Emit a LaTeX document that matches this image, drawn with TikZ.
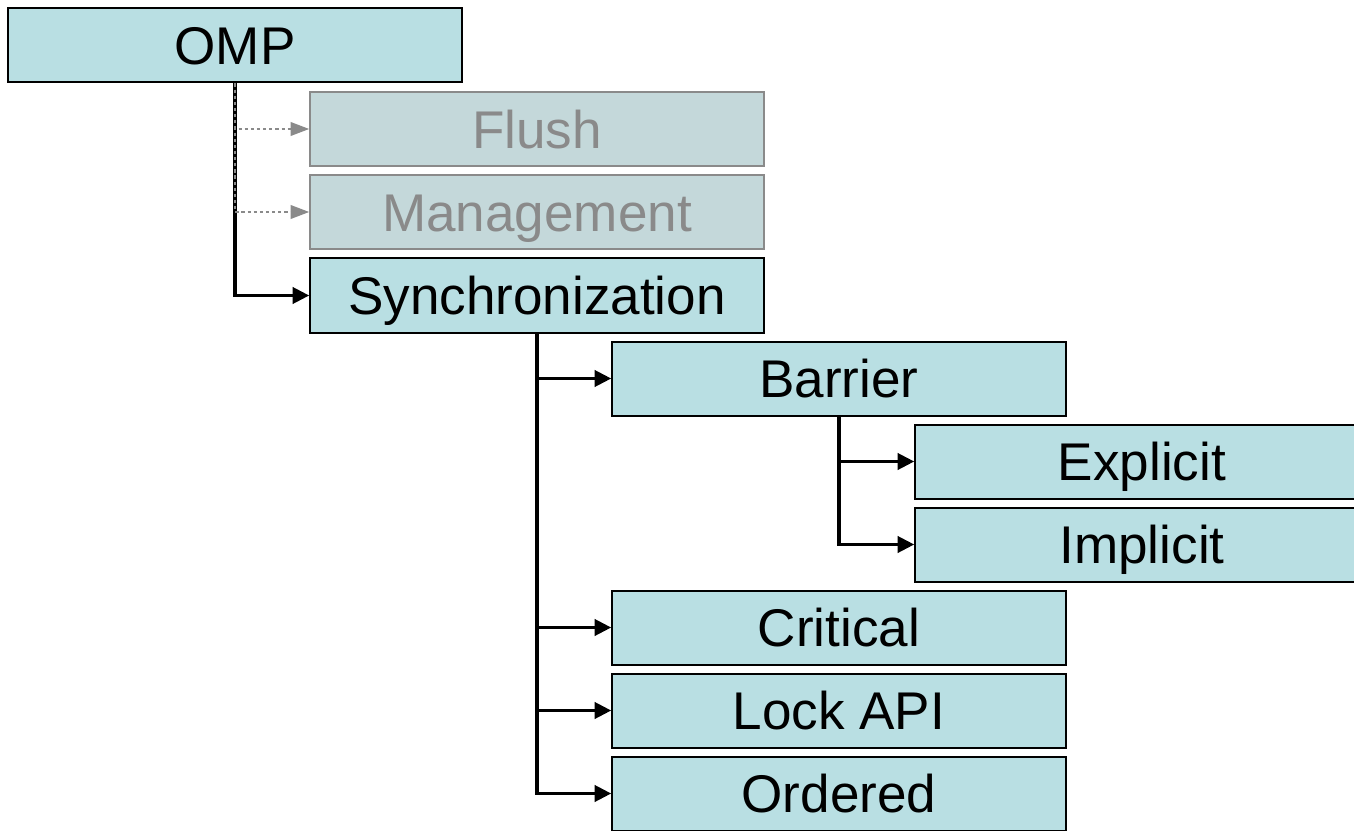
\documentclass[tikz,border=0pt]{standalone}
\usepackage{fontspec}
\setmainfont{Liberation Sans}
\usetikzlibrary{arrows.meta,positioning}
\definecolor{boxfill}{HTML}{B9DFE3}
\definecolor{fadefill}{HTML}{C4D8DA}
\definecolor{fadeline}{HTML}{8A8A8A}

\begin{document}
\begin{tikzpicture}[
  x=0.75pt, y=-0.75pt,
  box/.style={draw, line width=1.5pt, fill=boxfill, minimum width=340pt, minimum height=55.5pt,
    inner sep=0pt, text height=28.6pt, text depth=0pt, font=\fontsize{39.8}{42}\selectfont},
  fade/.style={box, draw=fadeline, fill=fadefill, text=fadeline},
  conn/.style={-{Triangle[length=12.5pt, width=12pt]}, line width=2.8pt},
  faded/.style={-{Triangle[length=14pt, width=10pt]}, line width=2pt, fadeline, dash pattern=on 2.4pt off 2.2pt}
]
  \useasboundingbox (0,0) rectangle (1354,831);
  \clip (0,0) rectangle (1354,831);
  \node[box]  (omp)      at (235,45.5)  {OMP};
  \node[fade] (flush)    at (537,129)   {Flush};
  \node[fade] (mgmt)     at (537,212)   {Management};
  \node[box]  (sync)     at (537,295.5) {Synchronization};
  \node[box]  (barrier)  at (839,378.5) {Barrier};
  \node[box]  (explicit) at (1142,461.5) {Explicit};
  \node[box]  (implicit) at (1142,544.5) {Implicit};
  \node[box]  (critical) at (839,627.5) {Critical};
  \node[box]  (lock)     at (839,710.5) {Lock API};
  \node[box]  (ordered)  at (839,793.5) {Ordered};
  % tree connectors
  \draw[conn] (omp.south) |- (sync.west);
  \draw[faded] (omp.south) |- (flush.west);
  \draw[faded] (omp.south) |- (mgmt.west);
  \draw[conn] (sync.south) |- (barrier.west);
  \draw[conn] (sync.south) |- (critical.west);
  \draw[conn] (sync.south) |- (lock.west);
  \draw[conn] (sync.south) |- (ordered.west);
  \draw[conn] (barrier.south) |- (explicit.west);
  \draw[conn] (barrier.south) |- (implicit.west);
\end{tikzpicture}
\end{document}
